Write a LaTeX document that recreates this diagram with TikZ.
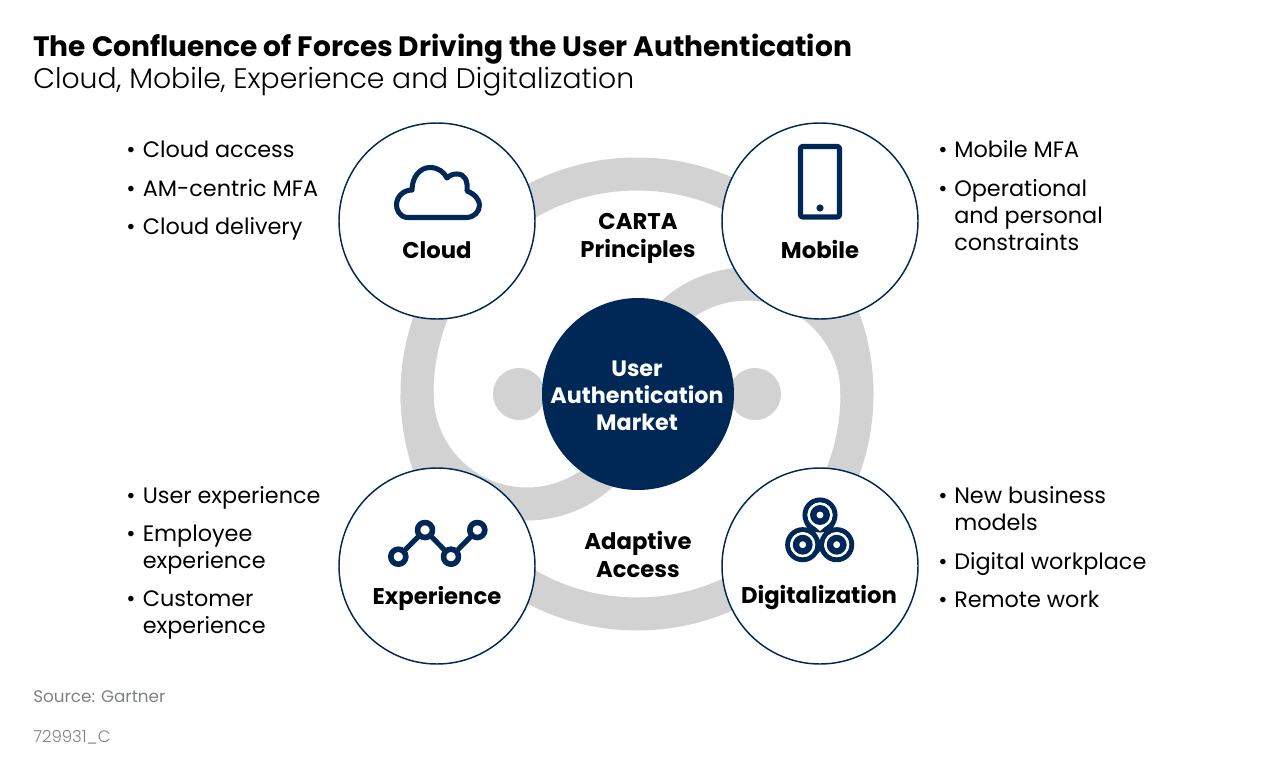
\documentclass[tikz,border=0pt]{standalone}
\usepackage{fontspec}
\setmainfont{Poppins}[UprightFont=* Regular,BoldFont=* Bold]
\newfontfamily\lightf{Poppins}[UprightFont=* Light]
\definecolor{navy}{HTML}{002856}
\definecolor{ringgray}{HTML}{D2D2D2}
\definecolor{srcgray}{HTML}{7F8284}
\tikzset{
  x=.75pt,y=-.75pt,
  force/.style={circle,draw=navy,line width=1.1pt,fill=white,minimum size=147pt,inner sep=0pt},
  hub/.style={circle,fill=navy,minimum size=144pt,inner sep=0pt},
  dotc/.style={circle,fill=ringgray,minimum size=39pt,inner sep=0pt},
  band/.style={draw=ringgray,line width=24.75pt},
  label/.style={font=\bfseries\fontsize{17.05pt}{21pt}\selectfont,align=center,inner sep=0pt},
  hublabel/.style={font=\bfseries\fontsize{16.7pt}{20.4pt}\selectfont,align=center,inner sep=0pt,text=white},
  itemtxt/.style={font=\fontsize{16.75pt}{20.25pt}\selectfont,align=left,anchor=base west,inner sep=0pt},
  bul/.style={font=\fontsize{16.75pt}{20.25pt}\selectfont,anchor=base west,inner sep=0pt},
  icon/.style={draw=navy,line width=3.8pt,line join=round},
}
\begin{document}
\begin{tikzpicture}
\useasboundingbox (0,0) rectangle (1275,760);
\fill[white] (0,0) rectangle (1275,760);
\node[anchor=base west,inner sep=0pt,font=\bfseries\fontsize{21.05pt}{25pt}\selectfont] (title) at (33,56) {The Confluence of Forces Driving the User Authentication};
\node[anchor=base west,inner sep=0pt,font=\lightf\fontsize{21.2pt}{25pt}\selectfont] (sub) at (33,88) {Cloud, Mobile, Experience and Digitalization};
% bands
\node[circle,draw=ringgray,line width=24.75pt,minimum size=330pt,inner sep=0pt] (ring) at (637,394) {};
\draw[band] (417,394) arc[start angle=180,end angle=40,radius=110];
\draw[band] (857,394) arc[start angle=0,end angle=-140,radius=110];
\node[dotc] (d1) at (519,394) {};
\node[dotc] (d2) at (755,394) {};
\node[hub] (hub) at (638,394) {};
\node[force] (cloud) at (437,221) {};
\node[force] (mobile) at (820,221) {};
\node[force] (exper) at (437,566) {};
\node[force] (digit) at (820,566) {};
\node[hublabel] (hubl) at (637,395.5) {User\\Authentication\\Market};
\node[label] (l1) at (437,250) {Cloud};
\node[label] (l2) at (820,249) {Mobile};
\node[label] (l3) at (437,598) {Experience};
\node[label] (l4) at (819,598) {Digitalization};
\node[label] (c1) at (638,238) {CARTA\\Principles};
\node[label] (c2) at (638,554) {Adaptive\\Access};
% cloud icon
\draw[icon] (408,217.5) .. controls (399,217.5) and (396.5,209) .. (396.5,205)
  .. controls (396.5,197) and (403,190) .. (412,190)
  .. controls (412,177) and (420,167.5) .. (430,167.5)
  .. controls (438,167.5) and (444,172) .. (447,178)
  .. controls (450,175) and (453,174) .. (457,174)
  .. controls (465,174) and (468,181) .. (467,191)
  .. controls (475,194) and (479.5,200) .. (479.5,205)
  .. controls (479.5,212) and (474,217.5) .. (466,217.5) -- cycle;
% mobile icon
\draw[icon,rounded corners=1.5pt] (800.5,146.5) rectangle (839.5,217);
\fill[navy] (820,208) circle[radius=3.6];
% experience icon
\draw[icon] (398.3,556.7) -- (425,530) -- (451,556.7) -- (477.3,530);
\foreach \p in {(398.3,556.7),(425,530),(451,556.7),(477.3,530)}
  \draw[icon,fill=white,line width=4.2pt] \p circle[radius=7.5];
% digitalization icon
\foreach \p in {(820,515),(802.7,544.7),(836.7,544.7)} {
  \draw[icon,fill=white] \p circle[radius=15];
}
\draw[icon] (806.9,522.4) -- (823.6,552);
\draw[icon] (833.1,522.4) -- (816.4,552);
\foreach \p in {(820,515),(802.7,544.7),(836.7,544.7)} {
  \fill[white] \p circle[radius=12.6];
}
\fill[white] (809,521.5) -- (820,531) -- (831,521.5) -- cycle;
\fill[white] (804,533) -- (813.5,539) -- (813,550) -- cycle;
\fill[white] (836,533) -- (826.5,539) -- (827,550) -- cycle;
\foreach \p in {(820,515),(802.7,544.7),(836.7,544.7)} {
  \draw[icon,line width=4.8pt] \p circle[radius=6.7];
}
% lists
\foreach \n/\x/\y in {a/126/157,b/126/196,c/126/234,d/938/157,e/938/196,f/126/503,g/126/541,h/126/606,i/938/503,j/938/569,k/938/607}
  \node[bul] (b\n) at (\x,\y) {•};
\node[itemtxt] (t1) at (142.5,157) {Cloud access};
\node[itemtxt] (t2) at (142.5,196) {AM-centric MFA};
\node[itemtxt] (t3) at (142.5,234) {Cloud delivery};
\node[itemtxt] (t4) at (954,157) {Mobile MFA};
\node[itemtxt] (t5) at (954,250) {Operational\\and personal\\constraints};
\node[itemtxt] (t6) at (142.5,503) {User experience};
\node[itemtxt] (t7) at (142.5,568) {Employee\\experience};
\node[itemtxt] (t8) at (142.5,633) {Customer\\experience};
\node[itemtxt] (t9) at (954,530) {New business\\models};
\node[itemtxt] (t10) at (954,569) {Digital workplace};
\node[itemtxt] (t11) at (954,607) {Remote work};
\node[anchor=base west,inner sep=0pt,text=srcgray,font=\fontsize{12.6pt}{16pt}\selectfont] (src) at (33,702) {Source: Gartner};
\node[anchor=base west,inner sep=0pt,text=srcgray,font=\lightf\fontsize{12.4pt}{16pt}\selectfont] (code) at (33,742) {729931\_C};
\end{tikzpicture}
\end{document}
